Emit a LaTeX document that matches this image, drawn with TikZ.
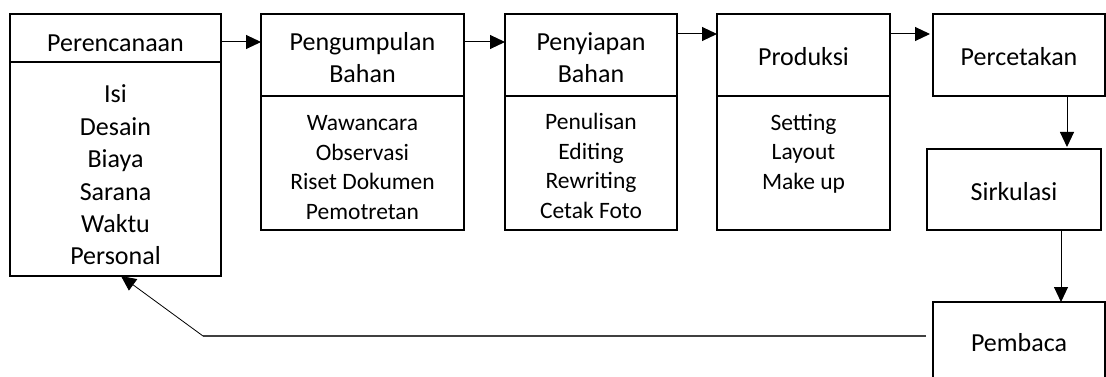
\documentclass[tikz,border=0pt]{standalone}
\usepackage{fontspec}
\setmainfont{Carlito}
\usetikzlibrary{arrows.meta}
\begin{document}
\begin{tikzpicture}[x=1pt,y=-1pt,
  box/.style={draw, line width=2.2pt, rectangle, inner sep=0pt, outer sep=0pt, anchor=north west},
  thinbox/.style={box, line width=1.3pt},
  hd/.style={font=\fontsize{26}{32}\selectfont, align=center, inner sep=0pt},
  lsta/.style={font=\fontsize{26}{32.4}\selectfont, align=center, inner sep=0pt},
  lstb/.style={font=\fontsize{23.5}{29.6}\selectfont, align=center, inner sep=0pt},
  arr/.style={-{Triangle[length=15pt,width=14pt]}, line width=1pt},
]
\useasboundingbox (0,0) rectangle (1106,377);
\clip (0,0) rectangle (1106,377);
% boxes
\node[box, minimum width=211pt, minimum height=48pt] (p1h) at (10,14) {};
\node[box, minimum width=211pt, minimum height=214pt] (p1b) at (10,62) {};
\node[box, minimum width=203pt, minimum height=82pt] (p2h) at (261,14) {};
\node[box, minimum width=203pt, minimum height=134pt] (p2b) at (261,96) {};
\node[box, minimum width=172pt, minimum height=82pt] (p3h) at (505,14) {};
\node[box, minimum width=172pt, minimum height=134pt] (p3b) at (505,96) {};
\node[box, minimum width=173pt, minimum height=82pt] (p4h) at (717,14) {};
\node[box, minimum width=173pt, minimum height=134pt] (p4b) at (717,96) {};
\node[box, minimum width=172pt, minimum height=82pt] (p5) at (933,14) {};
\node[box, minimum width=174pt, minimum height=81pt] (p6) at (927,149) {};
\node[thinbox, minimum width=172pt, minimum height=82pt] (p7) at (933,302) {};
% texts
\node[hd] (t1h) at (115.5,43) {Perencanaan};
\node[lsta] (t1b) at (115.5,175) {Isi\\Desain\\Biaya\\Sarana\\Waktu\\Personal};
\node[hd] (t2h) at (362.5,57.5) {Pengumpulan\\Bahan};
\node[lstb] (t2b) at (362.5,167.5) {Wawancara\\Observasi\\Riset Dokumen\\Pemotretan};
\node[hd] (t3h) at (591,58) {Penyiapan\\Bahan};
\node[lstb] (t3b) at (591,166) {Penulisan\\Editing\\Rewriting\\Cetak Foto};
\node[hd] (t4h) at (803.5,57) {Produksi};
\node[lstb] (t4b) at (803.5,153.5) {Setting\\Layout\\Make up};
\node[hd] (t5) at (1019,57) {Percetakan};
\node[hd] (t6) at (1014,192) {Sirkulasi};
\node[hd] (t7) at (1019,343) {Pembaca};
% connectors
\draw[arr] ([yshift=-4pt]p1h.east) -- ([yshift=13pt]p2h.west);
\draw[arr] ([yshift=13pt]p2h.east) -- ([yshift=13pt]p3h.west);
\draw[arr] ([yshift=21pt]p3h.east) -- ([yshift=21pt]p4h.west);
\draw[arr, shorten >=3pt] ([yshift=21pt]p4h.east) -- ([yshift=21pt]p5.west);
\coordinate (c1) at (1067,0);
\coordinate (c2) at (1061,0);
\draw[arr, shorten >=2pt] (p5.south -| c1) -- (p6.north -| c1);
\draw[arr] (p6.south -| c2) -- (p7.north -| c2);
\coordinate (r1) at (926,336);
\coordinate (r2) at (203,336);
\draw[line width=1.4pt, black!75] (r1) -- (r2);
\draw[arr, line width=0.8pt] (r2) -- ([xshift=5.5pt]p1b.south);
\end{tikzpicture}
\end{document}
